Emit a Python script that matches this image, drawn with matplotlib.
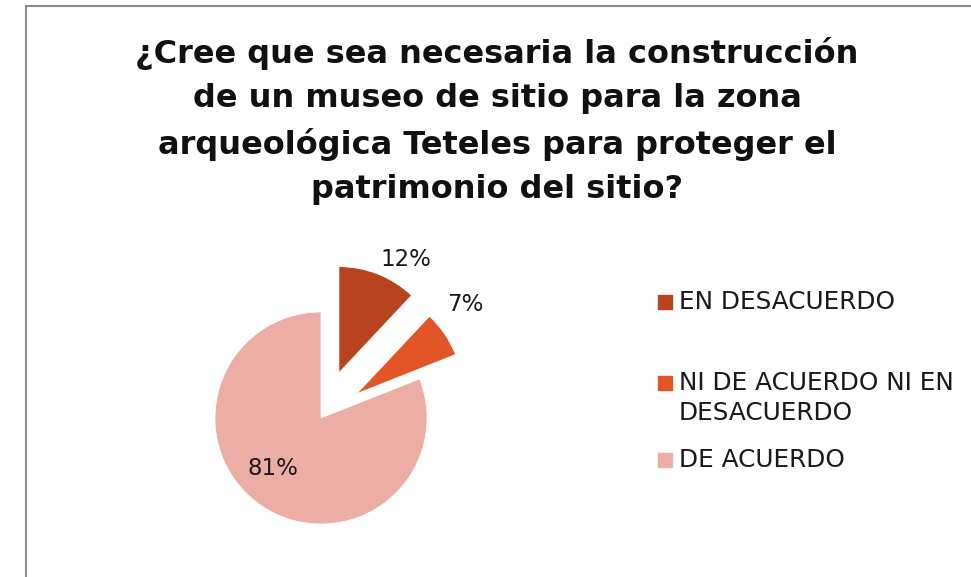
import matplotlib
matplotlib.use("Agg")
import matplotlib.pyplot as plt
from matplotlib.lines import Line2D
from matplotlib.patches import Rectangle

plt.rcParams["font.family"] = ["DejaVu Sans"]

# Survey answers and their share of responses (%)
categories = ["EN DESACUERDO", "NI DE ACUERDO NI EN\nDESACUERDO", "DE ACUERDO"]
shares = [12, 7, 81]
colors = ["#B8431F", "#E15527", "#ECADA5"]
explode = [0.46, 0.41, 0.0]

title = ("¿Cree que sea necesaria la construcción\n"
         "de un museo de sitio para la zona\n"
         "arqueológica Teteles para proteger el\n"
         "patrimonio del sitio?")

W, H = 971, 577
fig = plt.figure(figsize=(W / 100, H / 100), dpi=100)

# Pie axes: centre (321, 418) px, radius 106 px
cx, cy, r = 321, 418, 106
span = 1.6
side = 2 * span * r
ax = fig.add_axes([(cx - side / 2) / W, (H - cy - side / 2) / H, side / W, side / H])
wedges, _ = ax.pie(shares, colors=colors, explode=explode, startangle=90,
                   counterclock=False, radius=1.0,
                   wedgeprops=dict(edgecolor="white", linewidth=0.5))
ax.set_xlim(-span, span)
ax.set_ylim(-span, span)
ax.axis("off")

# percentage labels, placed like the spreadsheet's "best fit"
label_pos = [(0.80, 1.50), (1.36, 1.07), (-0.45, -0.48)]
for v, (lx, ly) in zip(shares, label_pos):
    ax.text(lx, ly, f"{v}%", ha="center", va="center", fontsize=16.5, color="#1a1a1a")

fig.text(497 / W, 1 - 121 / H, title, ha="center", va="center", fontsize=23,
         fontweight="bold", linespacing=1.55, color="#111111")

# legend drawn by hand to keep the wide row spacing
legend_y = [302, 383, 460]
for lab, col, y in zip(categories, colors, legend_y):
    fig.patches.append(Rectangle((658 / W, (H - y - 7) / H), 14 / W, 14 / H,
                                 transform=fig.transFigure, color=col))
    fig.text(679 / W, (H - y + 12) / H, lab, ha="left", va="top", fontsize=17.8,
             linespacing=1.3, color="#1a1a1a")

# chart frame (left and top edges only show)
fig.lines.append(Line2D([26 / W, 26 / W], [0, 1 - 6 / H], transform=fig.transFigure,
                        color="#8c8c8c", linewidth=1.5))
fig.lines.append(Line2D([26 / W, 1], [1 - 6 / H, 1 - 6 / H], transform=fig.transFigure,
                        color="#8c8c8c", linewidth=1.5))

fig.savefig("out.png", dpi=100)
